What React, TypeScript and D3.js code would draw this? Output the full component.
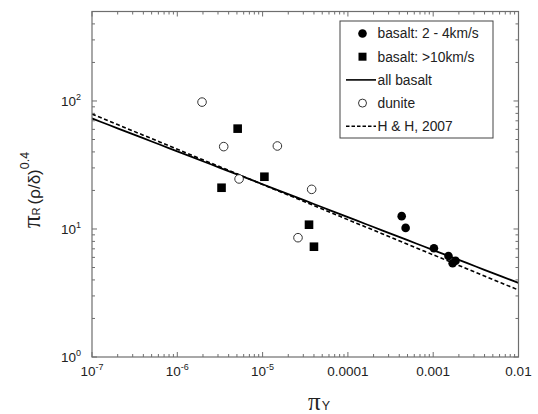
import React from "react";
import * as d3 from "d3";

const basaltLow = [
  { x: 4.27e-4, y: 12.6 },
  { x: 4.75e-4, y: 10.2 },
  { x: 1.02e-3, y: 7.07 },
  { x: 1.51e-3, y: 6.15 },
  { x: 1.69e-3, y: 5.4 },
  { x: 1.83e-3, y: 5.65 },
];
const basaltHigh = [
  { x: 5.1e-6, y: 60.8 },
  { x: 3.3e-6, y: 21 },
  { x: 1.05e-5, y: 25.6 },
  { x: 3.5e-5, y: 10.8 },
  { x: 4.0e-5, y: 7.27 },
];
const dunite = [
  { x: 1.95e-6, y: 98 },
  { x: 3.5e-6, y: 44 },
  { x: 5.3e-6, y: 24.6 },
  { x: 1.49e-5, y: 44.5 },
  { x: 3.76e-5, y: 20.4 },
  { x: 2.6e-5, y: 8.55 },
];
// power-law fits y = a * x^b
const allBasaltFit = { a: 1.16, b: -0.257 };
const hhFit = { a: 0.94, b: -0.275 };

const xDomain = [1e-7, 1e-2];
const yDomain = [1, 500];
const xMajor = [1e-7, 1e-6, 1e-5, 1e-4, 1e-3, 1e-2];
const xTickLabels = [
  { base: "10", exp: "-7" },
  { base: "10", exp: "-6" },
  { base: "10", exp: "-5" },
  { base: "0.0001", exp: "" },
  { base: "0.001", exp: "" },
  { base: "0.01", exp: "" },
];
const yMajor = [1, 10, 100];
const yTickLabels = [
  { base: "10", exp: "0" },
  { base: "10", exp: "1" },
  { base: "10", exp: "2" },
];
const legendItems = [
  { kind: "dot", label: "basalt: 2 - 4km/s" },
  { kind: "square", label: "basalt: >10km/s" },
  { kind: "solid", label: "all basalt" },
  { kind: "open", label: "dunite" },
  { kind: "dash", label: "H & H, 2007" },
];

const W = 538;
const H = 414;
const M = { left: 92, right: 518.5, top: 11.5, bottom: 357 };
const AX = "#6e6e6e";
const FONT = "'Liberation Sans', Arial, Helvetica, sans-serif";
const SERIF = "'Liberation Serif', 'Times New Roman', serif";

export default function App() {
  const x = d3.scaleLog().domain(xDomain).range([M.left, M.right]);
  const y = d3.scaleLog().domain(yDomain).range([M.bottom, M.top]);

  const minorX: number[] = [];
  for (let e = -7; e < -2; e++) for (let k = 2; k <= 9; k++) minorX.push(k * Math.pow(10, e));
  const minorY: number[] = [];
  for (let e = 0; e < 3; e++) for (let k = 2; k <= 9; k++) {
    const v = k * Math.pow(10, e);
    if (v <= yDomain[1]) minorY.push(v);
  }

  const fitLine = (f: { a: number; b: number }) => {
    const xs = d3.range(0, 51).map((i) => Math.pow(10, -7 + (5 * i) / 50));
    return d3
      .line<number>()
      .x((d) => x(d))
      .y((d) => y(f.a * Math.pow(d, f.b)))(xs) as string;
  };

  const lx = 340, ly = 21, lw = 153, lh = 117;

  return (
    <svg width={W} height={H} style={{ position: "absolute", left: 0, top: 0, background: "#fff" }} fontFamily={FONT}>
      <rect x={0} y={0} width={W} height={H} fill="#fff" />
      <defs>
        <clipPath id="plot">
          <rect x={M.left} y={M.top} width={M.right - M.left} height={M.bottom - M.top} />
        </clipPath>
      </defs>
      {/* fit lines */}
      <g clipPath="url(#plot)">
        <path d={fitLine(hhFit)} fill="none" stroke="#000" strokeWidth={1.6} strokeDasharray="4,2.5" />
        <path d={fitLine(allBasaltFit)} fill="none" stroke="#000" strokeWidth={1.8} />
      </g>
      {/* frame */}
      <rect x={M.left} y={M.top} width={M.right - M.left} height={M.bottom - M.top} fill="none" stroke={AX} strokeWidth={1.2} />
      {/* x ticks */}
      {xMajor.map((v, i) => (
        <g key={"xm" + i}>
          <line x1={x(v)} x2={x(v)} y1={M.bottom} y2={M.bottom - 5} stroke={AX} />
          <line x1={x(v)} x2={x(v)} y1={M.top} y2={M.top + 5} stroke={AX} />
        </g>
      ))}
      {minorX.map((v, i) => (
        <g key={"xn" + i}>
          <line x1={x(v)} x2={x(v)} y1={M.bottom} y2={M.bottom - 3} stroke={AX} />
          <line x1={x(v)} x2={x(v)} y1={M.top} y2={M.top + 3} stroke={AX} />
        </g>
      ))}
      {yMajor.map((v, i) => (
        <g key={"ym" + i}>
          <line x1={M.left} x2={M.left + 5} y1={y(v)} y2={y(v)} stroke={AX} />
          <line x1={M.right} x2={M.right - 5} y1={y(v)} y2={y(v)} stroke={AX} />
        </g>
      ))}
      {minorY.map((v, i) => (
        <g key={"yn" + i}>
          <line x1={M.left} x2={M.left + 3} y1={y(v)} y2={y(v)} stroke={AX} />
          <line x1={M.right} x2={M.right - 3} y1={y(v)} y2={y(v)} stroke={AX} />
        </g>
      ))}
      {/* x tick labels */}
      {xMajor.map((v, i) => (
        <text key={"xl" + i} x={x(v)} y={376} textAnchor="middle" fontSize={13.5} fill="#222">
          {xTickLabels[i].base}
          {xTickLabels[i].exp && (
            <tspan fontSize={9} dy={-6}>{xTickLabels[i].exp}</tspan>
          )}
        </text>
      ))}
      {/* y tick labels */}
      {yMajor.map((v, i) => (
        <text key={"yl" + i} x={81} y={y(v) + 5} textAnchor="end" fontSize={13.5} fill="#222">
          {yTickLabels[i].base}
          <tspan fontSize={9} dy={-6}>{yTickLabels[i].exp}</tspan>
        </text>
      ))}
      {/* axis titles */}
      <text x={308} y={410} fontSize={25} fill="#222" fontFamily={SERIF}>
        π<tspan fontSize={12.5} fontFamily={FONT} dx={1}>Y</tspan>
      </text>
      <g transform="translate(40,228) rotate(-90)">
        <text x={0} y={0} fontSize={25} fill="#222" fontFamily={SERIF}>
          π
          <tspan fontSize={11} fontFamily={FONT}>R</tspan>
          <tspan fontSize={17} fontFamily={FONT} dx={3}>(ρ/δ)</tspan>
          <tspan fontSize={12.5} fontFamily={FONT} dy={-11}>0.4</tspan>
        </text>
      </g>
      {/* data */}
      <g clipPath="url(#plot)">
        {dunite.map((d, i) => (
          <circle key={"du" + i} cx={x(d.x)} cy={y(d.y)} r={4.3} fill="#fff" stroke="#333" strokeWidth={1} />
        ))}
        {basaltHigh.map((d, i) => (
          <rect key={"bh" + i} x={x(d.x) - 4.3} y={y(d.y) - 4.3} width={8.6} height={8.6} fill="#000" />
        ))}
        {basaltLow.map((d, i) => (
          <circle key={"bl" + i} cx={x(d.x)} cy={y(d.y)} r={4.3} fill="#000" />
        ))}
      </g>
      {/* legend */}
      <rect x={lx} y={ly} width={lw} height={lh} fill="#fff" stroke="#444" strokeWidth={1} />
      {legendItems.map((it, i) => {
        const cy = 33.5 + i * 23.2;
        const sx = 362.5;
        return (
          <g key={"lg" + i}>
            {it.kind === "dot" && <circle cx={sx} cy={cy} r={4.3} fill="#000" />}
            {it.kind === "square" && <rect x={sx - 4} y={cy - 4} width={8} height={8} fill="#000" />}
            {it.kind === "open" && <circle cx={sx} cy={cy} r={4} fill="#fff" stroke="#333" />}
            {it.kind === "solid" && <line x1={346} x2={376} y1={cy} y2={cy} stroke="#000" strokeWidth={1.6} />}
            {it.kind === "dash" && <line x1={346} x2={376} y1={cy} y2={cy} stroke="#000" strokeWidth={1.4} strokeDasharray="3.5,2" />}
            <text x={377.5} y={cy + 4.8} fontSize={13.8} fill="#222">{it.label}</text>
          </g>
        );
      })}
    </svg>
  );
}
